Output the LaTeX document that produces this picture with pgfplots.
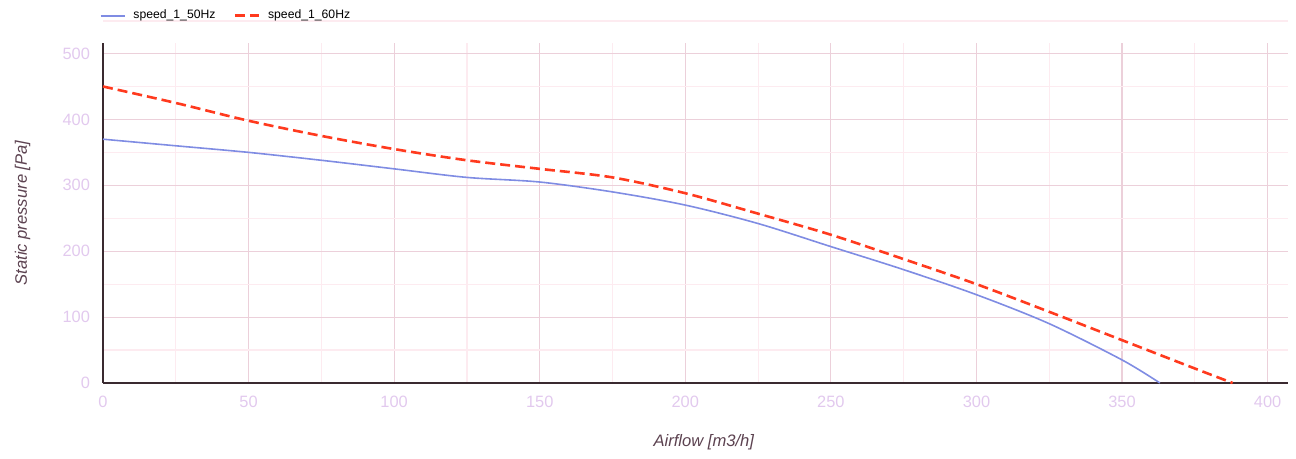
\documentclass[border=0pt]{standalone}
\usepackage{pgfplots}
\pgfplotsset{compat=1.18}
\usepackage{fontspec}
\setmainfont{Liberation Sans}
\setsansfont{Liberation Sans}

\definecolor{blueline}{HTML}{7F8CE3}
\definecolor{redline}{HTML}{FF3A1E}
\definecolor{ticklab}{HTML}{E2C9EE}
\definecolor{axlab}{HTML}{5C4250}
\definecolor{majgrid}{HTML}{ECD0DA}
\definecolor{mingrid}{HTML}{FDEBF0}
\definecolor{axline}{HTML}{3A2A30}

\begin{document}
\begin{tikzpicture}
\useasboundingbox (-51.5pt,-38pt) rectangle (596.5pt,191.5pt);
\begin{axis}[
  scale only axis,
  width=592.5pt, height=170pt,
  xmin=0, xmax=407, ymin=0, ymax=516,
  axis x line=bottom, axis y line=left,
  axis line style={-, color=axline, line width=0.6pt},
  xtick={0,50,...,400}, ytick={0,100,...,500},
  minor xtick={25,75,125,175,225,275,325,375}, minor ytick={50,150,250,350,450},
  major tick length=0pt, minor tick length=0pt,
  grid=both,
  major grid style={color=majgrid, line width=0.6pt},
  minor grid style={color=mingrid, line width=0.6pt},
  tick label style={font=\fontsize{8.2}{9}\selectfont, text=ticklab},
  /pgf/number format/assume math mode=true,
  xticklabel style={yshift=-3pt},
  yticklabel style={xshift=-3pt},
  xlabel={\itshape Airflow [m3/h]},
  ylabel={\itshape Static pressure [Pa]},
  label style={font=\fontsize{8.3}{9}\selectfont, text=axlab},
  xlabel style={at={(rel axis cs:0.507,0)}, anchor=base, yshift=-32pt},
  ylabel style={at={(rel axis cs:0,0.5)}, anchor=base, yshift=38pt},
  legend columns=-1,
  legend style={at={(-0.003,1.08)}, anchor=west, draw=none, fill=none,
    inner sep=0pt, font=\fontsize{6.1}{7}\selectfont,
    /tikz/every odd column/.append style={column sep=2pt},
    /tikz/every even column/.append style={column sep=7pt}},
  legend image code/.code={\draw[#1] (0cm,0cm) -- (12pt,0cm);},
  clip=false,
]
\addplot[blueline, line width=0.8pt, smooth] coordinates {
  (0,370) (25,360) (50,350) (75,338) (100,325) (125,312) (150,305)
  (175,290) (200,270) (225,242) (250,207) (275,172) (300,134)
  (325,90) (350,35) (363,0)
};
\addlegendentry{speed\_1\_50Hz}
\addplot[redline, line width=1.3pt, dash pattern=on 5pt off 2.5pt, smooth] coordinates {
  (0,450) (25,425) (50,398) (75,375) (100,355) (125,338) (150,325)
  (175,312) (200,288) (225,257) (250,225) (275,188) (300,150)
  (325,108) (350,65) (375,22) (388,0)
};
\addlegendentry{speed\_1\_60Hz}
\draw[mingrid, line width=0.6pt] ([yshift=11pt]rel axis cs:0,1) -- ([yshift=11pt]rel axis cs:1,1);
\end{axis}
\end{tikzpicture}
\end{document}
